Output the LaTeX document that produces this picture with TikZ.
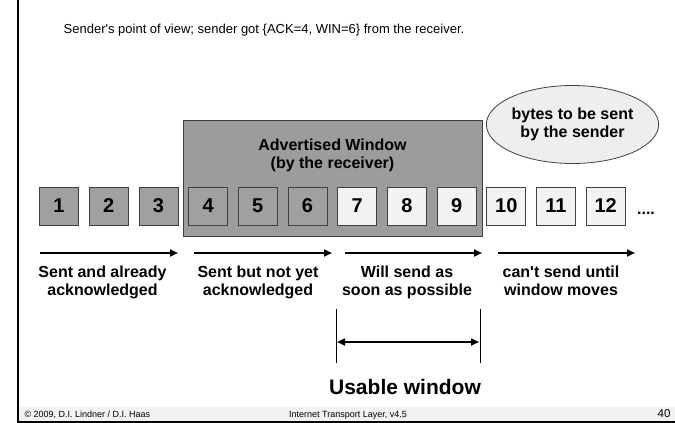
\documentclass[tikz,border=0pt]{standalone}
\usepackage{fontspec}
\setmainfont{Liberation Sans}[Ligatures=TeXOff]
\usetikzlibrary{arrows.meta,shapes.geometric}

\definecolor{sentgray}{HTML}{A0A0A0}
\definecolor{windowgray}{HTML}{9C9C9C}
\definecolor{freegray}{HTML}{F2F2F2}
\definecolor{bubblegray}{HTML}{EEEEEE}
\definecolor{footgray}{HTML}{F2F2F2}

\tikzset{
  bytebox/.style={draw=black!75, line width=0.8pt, minimum width=39pt,
    minimum height=38pt, inner sep=0pt, font=\fontsize{20}{22}\selectfont\bfseries},
  lbl/.style={align=center, font=\fontsize{16}{18}\selectfont\bfseries},
  flow/.style={line width=2.2pt, -{Triangle[length=8pt,width=7pt]}},
}

\begin{document}
\begin{tikzpicture}[x=1pt, y=-1pt]
  \useasboundingbox (0,0) rectangle (675,423);

  % Slide frame and footer
  \fill[footgray] (18,407) rectangle (675,421);
  \draw[line width=2pt] (17.8,0) -- (17.8,421.5) -- (675,421.5);
  \node[anchor=west, font=\fontsize{9}{10}\selectfont] (copy) at (21,415) {\textcopyright\ 2009, D.I. Lindner / D.I. Haas};
  \node[font=\fontsize{9}{10}\selectfont] (course) at (348,415) {Internet Transport Layer, v4.5};
  \node[anchor=east, font=\fontsize{11.5}{12}\selectfont] (page) at (674,414) {40};

  % Headline
  \node[font=\fontsize{13}{15}\selectfont] (title) at (264,30)
    {Sender's point of view; sender got \{ACK=4, WIN=6\} from the receiver.};

  % Advertised window and the bubble
  \node[draw=black!75, line width=0.8pt, fill=windowgray, minimum width=299pt,
    minimum height=116pt, inner sep=0pt] (win) at (332.5,178) {};
  \node[lbl] (wintext) at (332.5,155) {Advertised Window\\(by the receiver)};
  \node[ellipse, draw=black!75, line width=0.8pt, fill=bubblegray, minimum width=151pt,
    minimum height=78pt, inner sep=0pt, lbl] (bubble) at (572.5,124.5) {bytes to be sent\\by the sender};

  % Bytes of the stream
  \foreach \i in {1,...,6}
    \node[bytebox, fill=sentgray] (b\i) at ({59+49.7*(\i-1)},206) {\i};
  \foreach \i in {7,...,12}
    \node[bytebox, fill=freegray] (b\i) at ({59+49.7*(\i-1)},206) {\i};
  \node[font=\fontsize{16}{18}\selectfont\bfseries, anchor=base] (more) at (646,214) {....};

  % Arrows and what they mean
  \coordinate (a1s) at (40,253);  \coordinate (a1e) at (178,253);
  \coordinate (a2s) at (194,253); \coordinate (a2e) at (332,253);
  \coordinate (a3s) at (345,253); \coordinate (a3e) at (482,253);
  \coordinate (a4s) at (498,253); \coordinate (a4e) at (635,253);
  \draw[flow] (a1s) -- (a1e);
  \draw[flow] (a2s) -- (a2e);
  \draw[flow] (a3s) -- (a3e);
  \draw[flow] (a4s) -- (a4e);
  \node[lbl, anchor=north] (l1) at (102.5,262.5) {Sent and already\\acknowledged};
  \node[lbl, anchor=north] (l2) at (258,262.5) {Sent but not yet\\acknowledged};
  \node[lbl, anchor=north] (l3) at (407,262.5) {Will send as\\soon as possible};
  \node[lbl, anchor=north] (l4) at (561,262.5) {can't send until\\window moves};

  % Usable window
  \coordinate (uLt) at (336,309); \coordinate (uLb) at (336,363);
  \coordinate (uRt) at (480,309); \coordinate (uRb) at (480,363);
  \coordinate (uL) at (337,342);  \coordinate (uR) at (479,342);
  \draw[line width=0.8pt] (uLt) -- (uLb);
  \draw[line width=0.8pt] (uRt) -- (uRb);
  \draw[line width=2.2pt, {Triangle[length=8pt,width=7pt]}-{Triangle[length=8pt,width=7pt]}] (uL) -- (uR);
  \node[font=\fontsize{21}{24}\selectfont\bfseries] (usable) at (405,387) {Usable window};
\end{tikzpicture}
\end{document}
